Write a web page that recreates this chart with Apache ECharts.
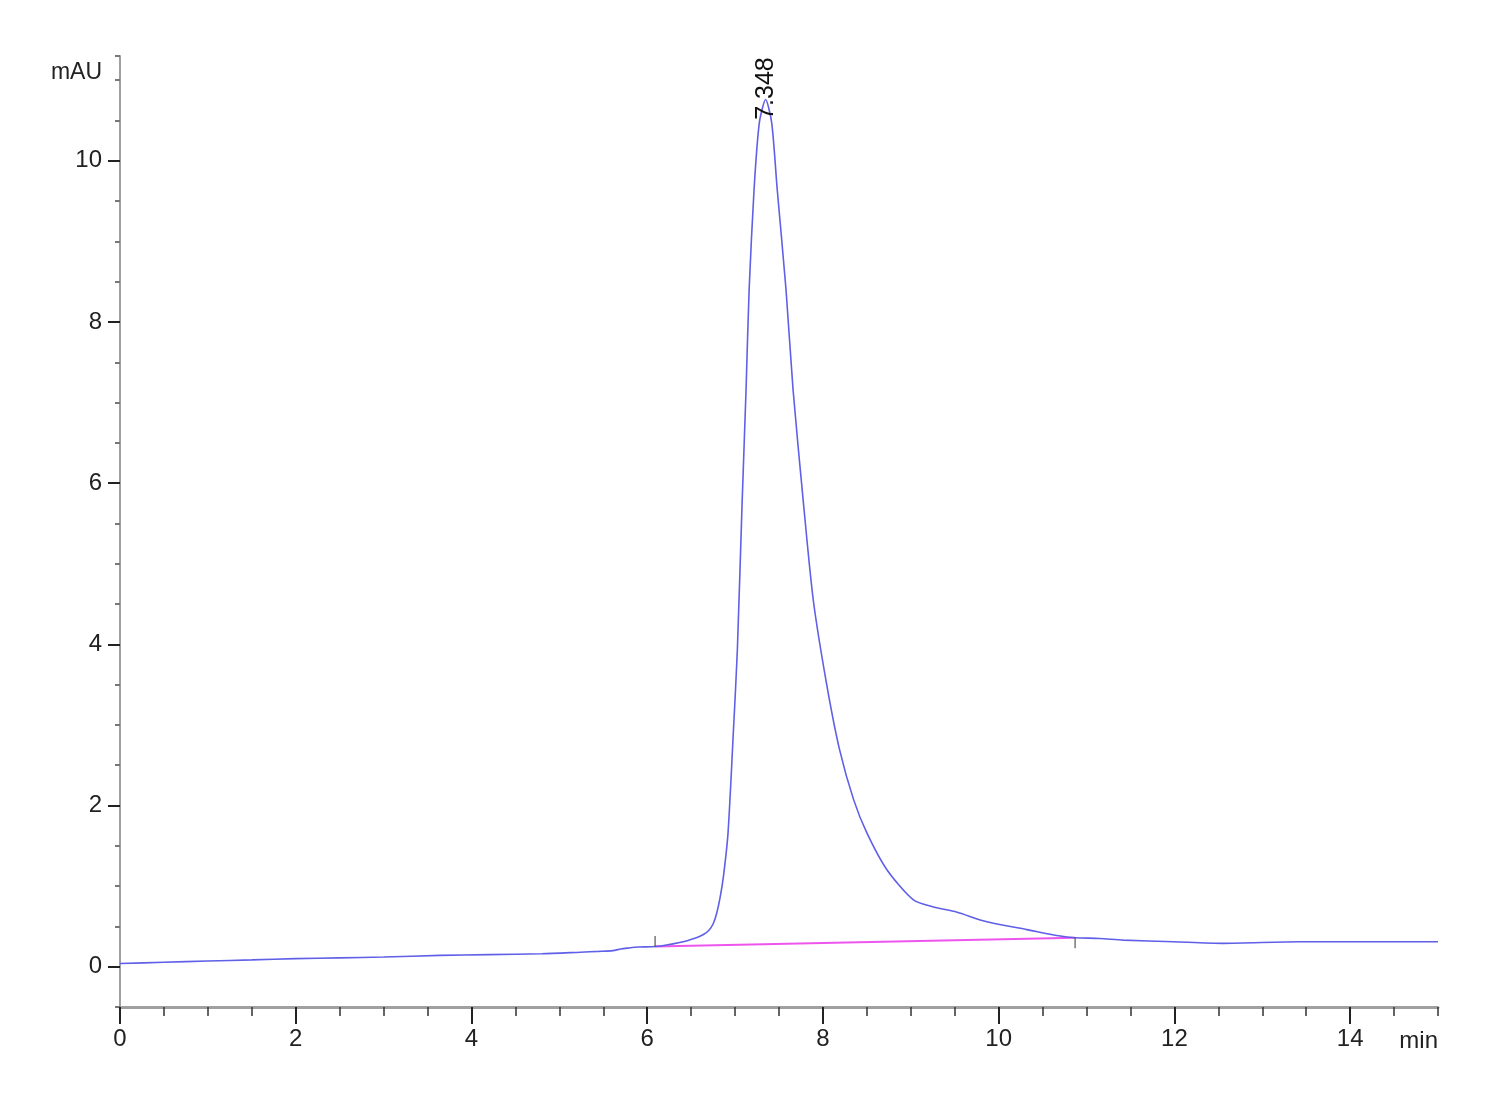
<!DOCTYPE html>
<html>
<head>
<meta charset="utf-8">
<title>chromatogram</title>
<script src="https://cdn.jsdelivr.net/npm/echarts@6/dist/echarts.min.js"></script>
<style>
  html, body { margin: 0; padding: 0; background: #ffffff; }
  #main { width: 1500px; height: 1100px; }
</style>
</head>
<body>
<div id="main"></div>
<script>
// retention time (min) and signal (mAU)
var times = [0, 0.5, 1, 1.5, 2, 2.5, 3, 3.64, 4.2, 4.8, 5.24, 5.45, 5.61, 5.7, 5.77, 5.9, 6.09,
  6.37, 6.56, 6.64, 6.7, 6.75, 6.79, 6.83, 6.87, 6.92, 6.98, 7.026, 7.08, 7.125, 7.16, 7.216, 7.276,
  7.348, 7.417, 7.48, 7.58, 7.66, 7.78, 7.89, 8.04, 8.19, 8.35, 8.5, 8.73, 9.03, 9.26, 9.52, 9.79,
  9.94, 10.32, 10.7, 10.87, 11.15, 11.42, 11.99, 12.55, 13.43, 14, 14.94, 15];
var signal = [0.04, 0.055, 0.07, 0.085, 0.1, 0.11, 0.12, 0.14, 0.15, 0.16, 0.18, 0.19, 0.2, 0.22, 0.23, 0.245, 0.25,
  0.3, 0.36, 0.4, 0.45, 0.53, 0.66, 0.86, 1.14, 1.66, 2.9, 3.93, 5.75, 7.16, 8.4, 9.64, 10.47,
  10.76, 10.47, 9.64, 8.4, 7.16, 5.73, 4.55, 3.52, 2.69, 2.07, 1.66, 1.2, 0.83, 0.74, 0.68, 0.58,
  0.54, 0.46, 0.38, 0.36, 0.35, 0.33, 0.31, 0.29, 0.31, 0.31, 0.31, 0.31];

// integration baseline (start / end of the peak)
var baseStart = [6.09, 0.25];
var baseEnd = [10.87, 0.36];

// peak annotation
var peakTime = 7.348;
var peakHeight = 10.76;

// axis labels
var xLabels = [0, 2, 4, 6, 8, 10, 12, 14];
var yLabels = [0, 2, 4, 6, 8, 10];

var pts = times.map(function (t, i) { return [t, signal[i]]; });

var font = "'Liberation Sans', Arial, sans-serif";

var chart = echarts.init(document.getElementById('main'));

var option = {
  backgroundColor: '#ffffff',
  animation: false,
  grid: { left: 120, right: 62, top: 56, bottom: 93 },
  xAxis: [{
    type: 'value', min: 0, max: 15, interval: 0.5,
    axisLine: { show: true, onZero: false, lineStyle: { color: '#a0a0a0', width: 3 } },
    axisTick: { show: true, length: 9, lineStyle: { color: '#333', width: 1.5 } },
    axisLabel: { show: false },
    splitLine: { show: false },
    name: 'min', nameLocation: 'end', nameGap: 0,
    nameTextStyle: { fontFamily: font, fontSize: 24, color: '#222', align: 'right', verticalAlign: 'top', padding: [22, 0, 0, 0] }
  }, {
    // major ticks + labels
    type: 'value', min: 0, max: 15, interval: 0.5, position: 'bottom',
    axisLine: { show: false, onZero: false },
    axisTick: { show: true, length: 17, customValues: xLabels, lineStyle: { color: '#222', width: 2 } },
    axisLabel: { show: true, customValues: xLabels, margin: 20, fontFamily: font, fontSize: 24, color: '#222' },
    splitLine: { show: false }
  }],
  yAxis: [{
    type: 'value', min: -0.5, max: 11.3, interval: 0.5,
    axisLine: { show: true, onZero: false, lineStyle: { color: '#a0a0a0', width: 2 } },
    axisTick: { show: true, length: 5, lineStyle: { color: '#777', width: 2 } },
    axisLabel: { show: false },
    splitLine: { show: false },
    name: 'mAU', nameLocation: 'end', nameGap: -17,
    nameTextStyle: { fontFamily: font, fontSize: 23, color: '#222', align: 'right', verticalAlign: 'middle', padding: [0, 18, 0, 0] }
  }, {
    type: 'value', min: -0.5, max: 11.3, interval: 0.5, position: 'left',
    axisLine: { show: false, onZero: false },
    axisTick: { show: true, length: 12, customValues: yLabels, lineStyle: { color: '#222', width: 2 } },
    axisLabel: { show: true, customValues: yLabels, margin: 18, fontFamily: font, fontSize: 24, color: '#222' },
    splitLine: { show: false }
  }],
  series: [{
    // baseline drawn under the signal
    type: 'line',
    data: [baseStart, baseEnd],
    symbol: 'none',
    lineStyle: { color: '#ee55ee', width: 2 },
    z: 2
  }, {
    type: 'line',
    data: pts,
    symbol: 'none',
    smooth: 0.25,
    lineStyle: { color: '#5f5fe8', width: 1.6 },
    z: 3,
    markPoint: {
      symbol: 'circle', symbolSize: 0,
      data: [{
        coord: [peakTime, peakHeight],
        label: {
          show: true, formatter: String(peakTime), rotate: 90,
          fontFamily: font, fontSize: 25, color: '#111',
          position: 'inside', offset: [11, 0]
        }
      }]
    }
  }, {
    // baseline start marker (points up)
    type: 'scatter',
    data: [baseStart],
    symbol: 'rect', symbolSize: [1.5, 11], symbolOffset: [0, -5],
    itemStyle: { color: '#555' },
    z: 4
  }, {
    // baseline end marker (points down)
    type: 'scatter',
    data: [baseEnd],
    symbol: 'rect', symbolSize: [1.5, 11], symbolOffset: [0, 5],
    itemStyle: { color: '#555' },
    z: 4
  }]
};

chart.setOption(option);
</script>
</body>
</html>
